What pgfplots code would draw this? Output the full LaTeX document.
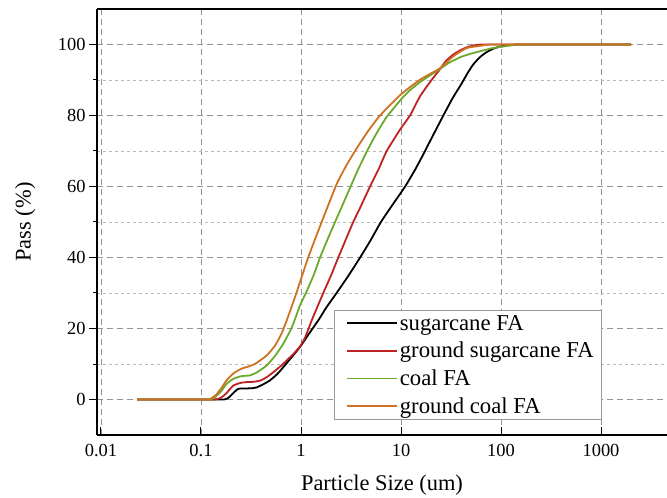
\documentclass[border=0pt]{standalone}
\usepackage{fontspec}
\setmainfont{Liberation Serif}
\usepackage{pgfplots}
\pgfplotsset{compat=1.18}

\definecolor{sugarFA}{RGB}{0,0,0}
\definecolor{gsugarFA}{RGB}{190,34,34}
\definecolor{coalFA}{RGB}{108,170,44}
\definecolor{gcoalFA}{RGB}{206,114,34}

\begin{document}
\begin{tikzpicture}
\useasboundingbox (-97bp,-63bp) rectangle (570bp,435bp);
\begin{axis}[
  at={(0,0)}, anchor=south west,
  scale only axis, width=570bp, height=426bp,
  xmode=log, log basis x=10,
  xmin=0.00912, xmax=4570,
  ymin=-10, ymax=110,
  axis x line*=box, axis y line*=left,
  axis line style={line width=1.6bp, black},
  xtick={0.01,0.1,1,10,100,1000},
  xticklabels={0.01,0.1,1,10,100,1000},
  ytick={0,20,40,60,80,100},
  yticklabels={0,20,40,60,80,100},
  minor ytick={10,30,50,70,90},
  xtick pos=bottom, ytick pos=left,
  xtick align=inside, ytick align=outside,
  major tick length=8bp, minor tick length=4bp,
  tick style={line width=1bp, black},
  grid=both,
  major grid style={gray!85, line width=0.8bp, dash pattern=on 6bp off 4bp},
  minor grid style={gray!55, line width=0.6bp, dash pattern=on 3bp off 3bp},
  tick label style={font=\fontsize{18.5}{21}\selectfont},
  /pgf/number format/assume math mode=true,
  xticklabel style={yshift=-6bp},
  label style={font=\fontsize{22.5}{27}\selectfont},
  xlabel={Particle Size (um)},
  ylabel={Pass (\%)},
  xlabel style={at={(axis description cs:0.5,-0.117)}, anchor=center},
  ylabel style={at={(axis description cs:-0.126,0.5)}, anchor=center},
  legend cell align=left,
  legend style={
    at={(rel axis cs:0.886,0.035)}, anchor=south east,
    draw=gray!80, line width=0.6bp,
    font=\fontsize{22.8}{25}\selectfont,
    inner xsep=6bp, inner ysep=3bp,
    row sep=6.5bp,
  },
  legend image code/.code={%
    \path (-6bp,0bp);
    \draw[#1, line width=1.8bp] (0bp,0bp) -- (50bp,0bp);},
  every axis plot/.append style={line width=1.8bp, line join=round},
]

% sugarcane FA
\addplot[sugarFA, smooth, tension=0.35] coordinates {
(0.023,0) (0.1,0) (0.17,0) (0.19,0.6) (0.21,1.8) (0.236,3.0) (0.28,3.1)
(0.33,3.2) (0.36,3.4) (0.42,4.3) (0.49,5.4) (0.58,7.2) (0.665,9.1)
(0.8,11.8) (0.977,14.8) (1.2,18.5) (1.49,22.3) (1.8,26) (2.27,30)
(3.0,35) (3.9,40) (5.0,45) (6.3,50) (8.3,55) (11,60) (14,65)
(17.4,70) (20.2,73.6) (26.5,80) (33,85) (39.8,88.7) (46,91.8)
(52.8,94.4) (62,96.5) (72.3,97.9) (85,98.9) (97.7,99.4) (120,99.8)
(150,100) (400,100) (2000,100)
};
\addlegendentry{sugarcane FA}

% ground sugarcane FA
\addplot[gsugarFA, smooth, tension=0.35] coordinates {
(0.023,0) (0.1,0) (0.14,0) (0.16,0.6) (0.18,1.8) (0.21,3.9) (0.25,4.7)
(0.287,4.9) (0.34,5.0) (0.398,5.4) (0.46,6.4) (0.53,7.7) (0.62,9.3)
(0.72,11) (0.85,13) (0.98,15) (1.1,17.5) (1.28,22.3) (1.67,30)
(2.0,35) (2.36,40) (2.8,45) (3.33,50) (3.9,54) (4.9,60) (6.0,65)
(7.2,70) (9.77,76) (12.3,80) (15.5,85.4) (20.2,90) (24.5,93)
(28,95.3) (33.4,97.2) (40,98.5) (45.4,99.2) (55,99.8) (70,100)
(400,100) (2000,100)
};
\addlegendentry{ground sugarcane FA}

% coal FA
\addplot[coalFA, smooth, tension=0.35] coordinates {
(0.023,0) (0.1,0) (0.125,0) (0.14,0.8) (0.16,2.4) (0.18,4.4) (0.21,5.8)
(0.246,6.5) (0.28,6.7) (0.309,6.8) (0.36,7.6) (0.454,9.6) (0.55,12.3)
(0.665,15.7) (0.8,20) (0.87,22.6) (0.977,26.5) (1.14,30.5) (1.35,35.3)
(1.55,40) (1.85,45.2) (2.19,50) (2.55,54.2) (3.09,59.6) (3.7,64.6)
(4.54,69.8) (5.7,75) (7.2,79.6) (10.2,84.8) (12.5,87.3) (15.5,89.4)
(20,91.5) (24.5,93.1) (30,94.8) (39.8,96.5) (50,97.4) (61.7,98.1)
(80,98.9) (97.7,99.3) (130,99.8) (170,100) (400,100) (2000,100)
};
\addlegendentry{coal FA}

% ground coal FA
\addplot[gcoalFA, smooth, tension=0.35] coordinates {
(0.023,0) (0.1,0) (0.12,0) (0.14,1.2) (0.16,3.2) (0.18,5.4) (0.21,7.3)
(0.255,8.7) (0.3,9.3) (0.35,10.1) (0.454,12.4) (0.55,15.2) (0.64,18.6)
(0.72,22.3) (0.87,28.8) (1.18,40) (1.61,50) (1.95,56) (2.3,61)
(2.8,65.6) (3.47,70) (4.6,75.3) (6.17,80) (9.77,85.7) (15.5,90.1)
(24.5,93.3) (33.4,96.7) (45.4,99) (61.7,99.6) (80,100) (400,100)
(2000,100)
};
\addlegendentry{ground coal FA}

\end{axis}
\end{tikzpicture}
\end{document}
